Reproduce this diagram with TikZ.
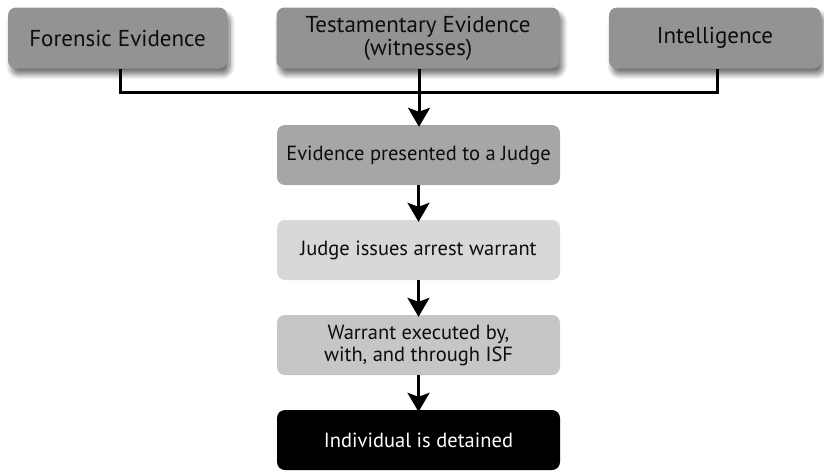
\documentclass[tikz,border=0pt]{standalone}
\usepackage{fontspec}
\setmainfont{PT Sans}
\usetikzlibrary{arrows.meta,shadows.blur}
\definecolor{topgray}{HTML}{939393}
\definecolor{evgray}{HTML}{A6A6A6}
\definecolor{judgegray}{HTML}{D8D8D8}
\definecolor{wargray}{HTML}{C6C6C6}
\tikzset{
  topbox/.style={rounded corners=8pt, fill=topgray, minimum height=61pt, align=center,
    font=\fontsize{23}{23}\selectfont, text=black!95, inner sep=0pt,
    blur shadow={shadow xshift=3pt, shadow yshift=-6pt, shadow blur steps=8, shadow blur radius=5pt, shadow opacity=55}},
  lowbox/.style={rounded corners=8pt, minimum width=283pt, minimum height=60pt, align=center,
    font=\fontsize{20.5}{22}\selectfont, text=black!95, inner sep=0pt},
  conn/.style={line width=3pt},
  arr/.style={line width=3pt, -{Stealth[length=19pt,width=22pt,inset=4pt]}}
}
\begin{document}
\begin{tikzpicture}[x=1pt,y=-1pt]
\useasboundingbox (0,0) rectangle (824,471);
\node[topbox, minimum width=219pt] (f) at (117.5,38) {Forensic Evidence};
\node[topbox, minimum width=283pt] (t) at (418,38) {Testamentary Evidence\\(witnesses)};
\node[topbox, minimum width=212pt] (i) at (715,38) {Intelligence};
\node[lowbox, fill=evgray] (e) at (418.5,155) {Evidence presented to a Judge};
\node[lowbox, fill=judgegray] (j) at (418.5,250) {Judge issues arrest warrant};
\node[lowbox, fill=wargray] (w) at (418.5,345) {Warrant executed by,\\with, and through ISF};
\node[lowbox, fill=black, text=white] (d) at (418.5,440) {Individual is detained};
\coordinate (fl) at (120,92);
\coordinate (ir) at (717,92);
\draw[conn] ([xshift=2.5pt]f.south) -- (fl) -- (ir) -- ([xshift=2pt]i.south);
\draw[arr] ([xshift=1pt]t.south) -- ([xshift=0.5pt, yshift=-2pt]e.north);
\draw[arr] (e.south) -- ([yshift=-2pt]j.north);
\draw[arr] (j.south) -- ([yshift=-2pt]w.north);
\draw[arr] (w.south) -- ([yshift=-2pt]d.north);
\end{tikzpicture}
\end{document}
